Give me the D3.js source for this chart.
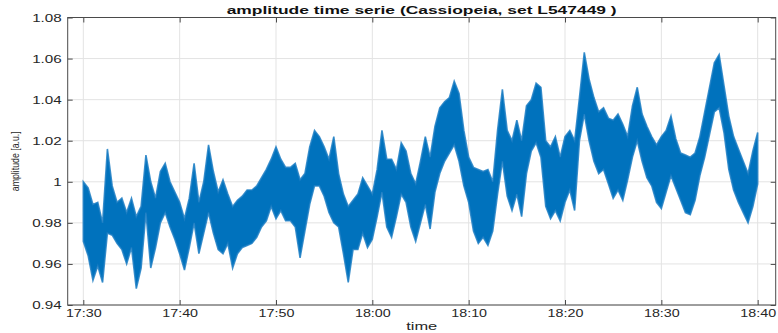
<!DOCTYPE html>
<html><head><meta charset="utf-8">
<script src="https://cdn.jsdelivr.net/npm/d3@7"></script>
<style>
body{margin:0;background:#fff;}
text{font-family:"Liberation Sans",Arial,Helvetica,sans-serif;}
</style>
</head><body><svg id="c" width="778" height="333"></svg>
<script>
// minutes after 17:30 of each sample (read every half minute)
const minutes = [
 0,0.5,1,1.5,2,2.5,3,3.5,4,4.5, 5,5.5,6,6.5,7,7.5,8,8.5,9,9.5,
 10,10.5,11,11.5,12,12.5,13,13.5,14,14.5, 15,15.5,16,16.5,17,17.5,18,18.5,19,19.5,
 20,20.5,21,21.5,22,22.5,23,23.5,24,24.5, 25,25.5,26,26.5,27,27.5,28,28.5,29,29.5,
 30,30.5,31,31.5,32,32.5,33,33.5,34,34.5, 35,35.5,36,36.5,37,37.5,38,38.5,39,39.5,
 40,40.5,41,41.5,42,42.5,43,43.5,44,44.5, 45,45.5,46,46.5,47,47.5,48,48.5,49,49.5,
 50,50.5,51,51.5,52,52.5,53,53.5,54,54.5, 55,55.5,56,56.5,57,57.5,58,58.5,59,59.5,
 60,60.5,61,61.5,62,62.5,63,63.5,64,64.5, 65,65.5,66,66.5,67,67.5,68,68.5,69,69.5,
 70];
// upper envelope of the amplitude trace
const ampHigh = [
 1.000,0.997,0.989,0.990,0.980,1.016,0.998,0.990,0.992,0.985,
 0.992,0.983,0.988,1.013,1.000,0.992,1.005,1.009,1.000,0.995,
 0.990,0.982,0.992,1.009,0.990,1.000,1.018,1.005,0.995,1.001,
 0.994,0.988,0.991,0.993,0.996,0.996,0.998,1.002,1.006,1.011,
 1.017,1.011,1.007,1.007,1.009,1.001,1.004,1.017,1.025,1.022,
 1.017,1.011,1.022,1.004,0.994,0.988,0.991,0.994,1.002,0.998,
 0.994,1.006,1.025,1.011,1.011,1.006,1.019,1.015,1.004,0.999,
 1.010,1.022,1.012,1.027,1.036,1.039,1.041,1.049,1.043,1.025,
 1.012,1.007,1.006,1.005,1.006,1.000,1.025,1.045,1.025,1.020,
 1.030,1.020,1.037,1.040,1.048,1.046,1.020,1.017,1.022,1.012,
 1.022,1.025,1.020,1.041,1.063,1.050,1.041,1.034,1.036,1.031,
 1.030,1.033,1.028,1.022,1.037,1.046,1.033,1.027,1.022,1.018,
 1.022,1.025,1.032,1.021,1.014,1.013,1.012,1.014,1.022,1.034,
 1.046,1.058,1.062,1.047,1.032,1.022,1.016,1.010,1.004,1.015,
 1.024];
// lower envelope of the amplitude trace
const ampLow = [
 0.971,0.964,0.952,0.959,0.951,0.975,0.974,0.970,0.967,0.960,
 0.968,0.948,0.958,0.985,0.958,0.968,0.980,0.985,0.978,0.972,
 0.965,0.957,0.968,0.980,0.965,0.975,0.985,0.975,0.967,0.965,
 0.970,0.958,0.965,0.968,0.969,0.970,0.973,0.978,0.981,0.988,
 0.982,0.986,0.981,0.981,0.978,0.963,0.976,0.989,0.998,0.998,
 0.993,0.985,0.980,0.978,0.965,0.951,0.967,0.967,0.975,0.968,
 0.972,0.983,0.995,0.978,0.973,0.983,0.994,0.990,0.978,0.971,
 0.980,0.989,0.977,0.995,1.004,1.010,1.014,1.018,1.010,0.998,
 0.990,0.976,0.970,0.973,0.969,0.976,0.994,1.010,0.993,0.986,
 0.994,0.983,1.004,1.015,1.019,1.012,0.988,0.982,0.986,0.981,
 0.990,0.996,0.986,1.020,1.033,1.020,1.010,1.004,1.006,0.999,
 0.992,0.996,0.991,1.001,1.012,1.020,1.010,1.002,0.998,0.990,
 0.987,0.995,1.003,0.997,0.991,0.985,0.984,0.991,1.003,1.012,
 1.023,1.034,1.036,1.024,1.006,0.996,0.990,0.985,0.980,0.988,
 0.999];
const xTickLabels = ["17:30","17:40","17:50","18:00","18:10","18:20","18:30","18:40"];
const yTicks = [0.94,0.96,0.98,1.00,1.02,1.04,1.06,1.08];
const yTickLabels = ["0.94","0.96","0.98","1","1.02","1.04","1.06","1.08"];
const chartTitle = "amplitude time serie (Cassiopeia, set L547449 )";
const xTitle = "time";
const yTitle = "amplitude [a.u.]";

const W = 778, H = 333;
const m = {left: 67.7, right: 2.3, top: 17.5, bottom: 28};
const parse = d3.timeParse("%H:%M");
const t0 = parse("17:30");
const toDate = mm => new Date(t0.getTime() + mm * 60000);
const x = d3.scaleTime().domain([toDate(-1.62), toDate(71.87)]).range([m.left, W - m.right]);
const y = d3.scaleLinear().domain([0.94, 1.08]).range([H - m.bottom, m.top]);
const xTickDates = xTickLabels.map(parse);

const svg = d3.select("#c");
const axisCol = "#4a4a4a", textCol = "#262626", gridCol = "#e3e3e3";

// grid
svg.append("g").selectAll("line").data(xTickDates).join("line")
  .attr("x1", d => x(d)).attr("x2", d => x(d)).attr("y1", m.top).attr("y2", H - m.bottom)
  .attr("stroke", gridCol).attr("stroke-width", 1);
svg.append("g").selectAll("line").data(yTicks).join("line")
  .attr("y1", d => y(d)).attr("y2", d => y(d)).attr("x1", m.left).attr("x2", W - m.right)
  .attr("stroke", gridCol).attr("stroke-width", 1);

// data band
const data = minutes.map((t, i) => ({t: toDate(t), hi: ampHigh[i], lo: ampLow[i]}));
const area = d3.area().x(d => x(d.t)).y0(d => y(d.lo)).y1(d => y(d.hi));
svg.append("path").datum(data).attr("d", area)
  .attr("fill", "#0072BD").attr("stroke", "#1f7fc4").attr("stroke-width", 1.6)
  .attr("stroke-opacity", 0.85).attr("stroke-linejoin", "miter");

// axes
const styleAxis = g => { g.select(".domain").remove(); g.selectAll(".tick line").attr("stroke", axisCol); };
const gB = svg.append("g").attr("transform", `translate(0,${H - m.bottom})`)
  .call(d3.axisBottom(x).tickValues(xTickDates).tickFormat((d, i) => xTickLabels[i]).tickSizeInner(-5).tickSizeOuter(0).tickPadding(4))
  .call(styleAxis);
gB.selectAll(".tick text").attr("fill", textCol).attr("font-size", 11).attr("font-family", null).attr("dy", "0.71em")
  .each(function(){ const w = this.getComputedTextLength(); this.setAttribute("textLength", w * 1.3); this.setAttribute("lengthAdjust", "spacingAndGlyphs"); });
svg.append("g").attr("transform", `translate(0,${m.top})`)
  .call(d3.axisTop(x).tickValues(xTickDates).tickFormat("").tickSizeInner(-5).tickSizeOuter(0)).call(styleAxis);
const gL = svg.append("g").attr("transform", `translate(${m.left},0)`)
  .call(d3.axisLeft(y).tickValues(yTicks).tickFormat((d, i) => yTickLabels[i]).tickSizeInner(-5).tickSizeOuter(0).tickPadding(6))
  .call(styleAxis);
gL.selectAll(".tick text").attr("fill", textCol).attr("font-size", 11).attr("font-family", null)
  .each(function(){ const w = this.getComputedTextLength(); this.setAttribute("textLength", w * 1.38); this.setAttribute("lengthAdjust", "spacingAndGlyphs"); });
svg.append("g").attr("transform", `translate(${W - m.right},0)`)
  .call(d3.axisRight(y).tickValues(yTicks).tickFormat("").tickSizeInner(-5).tickSizeOuter(0)).call(styleAxis);

// box
svg.append("rect").attr("x", m.left).attr("y", m.top)
  .attr("width", W - m.left - m.right).attr("height", H - m.top - m.bottom)
  .attr("fill", "none").attr("stroke", axisCol).attr("stroke-width", 1);

// titles
const cx = (m.left + W - m.right) / 2;
svg.append("text").attr("x", cx).attr("y", 13.5).attr("text-anchor", "middle")
  .attr("font-size", 11.5).attr("font-weight", "bold").attr("fill", "#111")
  .attr("textLength", 390).attr("lengthAdjust", "spacingAndGlyphs").text(chartTitle);
svg.append("text").attr("x", cx).attr("y", 330).attr("text-anchor", "middle")
  .attr("font-size", 11.5).attr("fill", textCol)
  .attr("textLength", 31).attr("lengthAdjust", "spacingAndGlyphs").text(xTitle);
svg.append("text").attr("transform", `translate(19,${(m.top + H - m.bottom) / 2}) rotate(-90)`)
  .attr("text-anchor", "middle").attr("font-size", 10.5).attr("fill", textCol)
  .attr("textLength", 60).attr("lengthAdjust", "spacingAndGlyphs").text(yTitle);
</script>
</body></html>
